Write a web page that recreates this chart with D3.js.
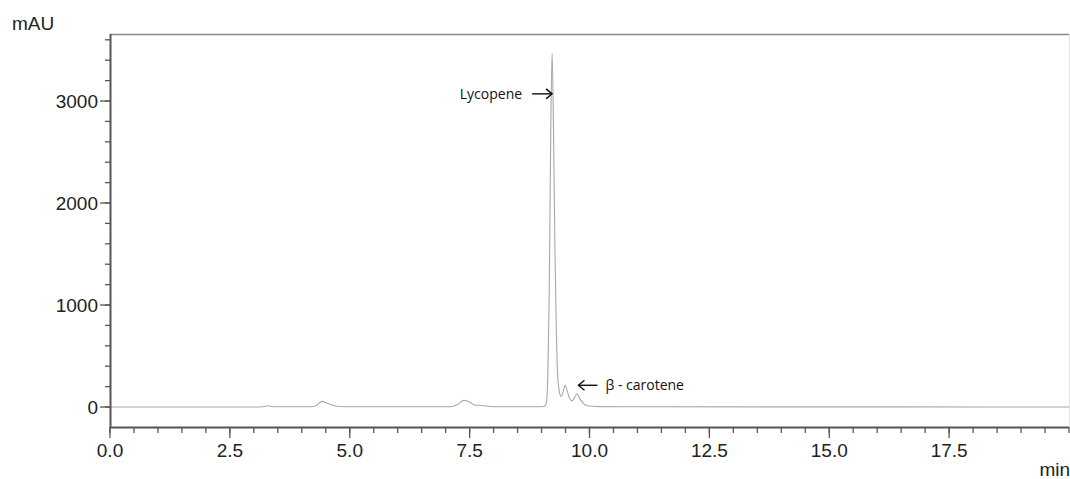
<!DOCTYPE html>
<html>
<head>
<meta charset="utf-8">
<script src="https://cdn.jsdelivr.net/npm/d3@7"></script>
<style>
  html, body { margin: 0; padding: 0; background: #fff; }
  svg { display: block; }
</style>
</head>
<body>
<svg id="chart" width="1070" height="479"></svg>
<script>
// ---- data ----
const times = [0, 3.0, 3.2, 3.3, 3.4, 3.6, 4.2, 4.3, 4.42, 4.55, 4.7, 4.9,
  7.1, 7.25, 7.38, 7.5, 7.6, 7.75, 8.0, 8.6, 8.9, 9.05, 9.1, 9.13, 9.16, 9.19,
  9.22, 9.25, 9.28, 9.31, 9.34, 9.38, 9.41, 9.45, 9.49, 9.54, 9.59, 9.63, 9.68,
  9.74, 9.8, 9.87, 9.95, 10.2, 11, 16.5, 20];
const signal = [0, 0, 3, 12, 3, 2, 2, 15, 55, 35, 10, 3,
  3, 25, 65, 50, 20, 15, 3, 2, 2, 5, 40, 300, 1100, 2600,
  3470, 2700, 1500, 700, 280, 130, 100, 150, 213, 150, 80, 60, 85,
  130, 80, 35, 12, 4, 2, 1, 0];
const xTicks = [0, 2.5, 5, 7.5, 10, 12.5, 15, 17.5];
const yTicks = [0, 1000, 2000, 3000];
const annotations = [
  { label: "Lycopene", t: 9.22, v: 3070, side: "left" },
  { label: "β - carotene", t: 9.77, v: 213, side: "right" }
];

// ---- layout ----
const svg = d3.select("#chart");
const x = d3.scaleLinear().domain([0, 20]).range([110, 1069]);
const y = d3.scaleLinear().domain([-196, 3657]).range([427, 34]);
const axisColor = "#555";
const fontAxis = "Liberation Sans, Arial, sans-serif";

// frame top/right
svg.append("line").attr("x1", 110).attr("x2", 1069).attr("y1", 34.5).attr("y2", 34.5)
  .attr("stroke", "#8a8a8a").attr("stroke-width", 1.5);
svg.append("line").attr("x1", 1069.5).attr("x2", 1069.5).attr("y1", 34).attr("y2", 427)
  .attr("stroke", "#e4e4e4").attr("stroke-width", 1);

// trace
const line = d3.line().x((d, i) => x(times[i])).y((d, i) => y(signal[i]))
  .curve(d3.curveMonotoneX);
svg.append("path").datum(signal).attr("d", line)
  .attr("fill", "none").attr("stroke", "#a8a8a8").attr("stroke-width", 1.1);

// x axis
const xMinor = d3.range(0, 20.001, 0.5);
const gx = svg.append("g").attr("transform", "translate(0,427)");
gx.append("line").attr("x1", 110).attr("x2", 1069).attr("y1", 0.5).attr("y2", 0.5)
  .attr("stroke", axisColor).attr("stroke-width", 2);
gx.selectAll("line.minor").data(xMinor).join("line").attr("class", "minor")
  .attr("x1", d => x(d)).attr("x2", d => x(d)).attr("y1", 0).attr("y2", 6)
  .attr("stroke", axisColor).attr("stroke-width", 1.3);
gx.selectAll("line.major").data(xTicks).join("line").attr("class", "major")
  .attr("x1", d => x(d)).attr("x2", d => x(d)).attr("y1", 0).attr("y2", 11)
  .attr("stroke", axisColor).attr("stroke-width", 1.3);
gx.selectAll("text").data(xTicks).join("text")
  .attr("x", d => x(d)).attr("y", 29.5).attr("text-anchor", "middle")
  .attr("font-family", fontAxis).attr("font-size", 19).attr("fill", "#222")
  .text(d => d3.format(".1f")(d));

// y axis
const yMinor = d3.range(-200, 3657, 200).filter(v => v >= -196);
const gy = svg.append("g");
gy.append("line").attr("x1", 110.5).attr("x2", 110.5).attr("y1", 34).attr("y2", 428)
  .attr("stroke", axisColor).attr("stroke-width", 2);
gy.selectAll("line.minor").data(yMinor).join("line").attr("class", "minor")
  .attr("x1", 105).attr("x2", 110).attr("y1", d => y(d)).attr("y2", d => y(d))
  .attr("stroke", axisColor).attr("stroke-width", 1.3);
gy.selectAll("line.major").data(yTicks).join("line").attr("class", "major")
  .attr("x1", 100).attr("x2", 110).attr("y1", d => y(d)).attr("y2", d => y(d))
  .attr("stroke", axisColor).attr("stroke-width", 1.3);
gy.selectAll("text").data(yTicks).join("text")
  .attr("x", 98).attr("y", d => y(d)).attr("dy", "0.36em").attr("text-anchor", "end")
  .attr("font-family", fontAxis).attr("font-size", 19).attr("fill", "#222")
  .text(d => d);

// axis titles
svg.append("text").attr("x", 12).attr("y", 30).attr("font-family", fontAxis)
  .attr("font-size", 19).attr("fill", "#222").text("mAU");
svg.append("text").attr("x", 1070).attr("y", 476).attr("text-anchor", "end")
  .attr("font-family", fontAxis).attr("font-size", 19).attr("fill", "#222").text("min");

// annotations
const annFont = "'Open Sans', 'Noto Sans', sans-serif";
annotations.forEach(a => {
  const tx = x(a.t), ty = y(a.v);
  const g = svg.append("g");
  if (a.side === "left") {
    g.append("line").attr("x1", tx - 20).attr("x2", tx).attr("y1", ty).attr("y2", ty)
      .attr("stroke", "#111").attr("stroke-width", 1.4);
    g.append("path").attr("d", `M${tx - 6},${ty - 5} L${tx},${ty} L${tx - 6},${ty + 5}`)
      .attr("fill", "none").attr("stroke", "#111").attr("stroke-width", 1.4);
    g.append("text").attr("x", tx - 30).attr("y", ty + 5).attr("text-anchor", "end")
      .attr("font-family", annFont).attr("font-size", 14).attr("fill", "#111").text(a.label);
  } else {
    g.append("line").attr("x1", tx).attr("x2", tx + 19).attr("y1", ty).attr("y2", ty)
      .attr("stroke", "#111").attr("stroke-width", 1.4);
    g.append("path").attr("d", `M${tx + 6},${ty - 5} L${tx},${ty} L${tx + 6},${ty + 5}`)
      .attr("fill", "none").attr("stroke", "#111").attr("stroke-width", 1.4);
    g.append("text").attr("x", tx + 27).attr("y", ty + 5).attr("text-anchor", "start")
      .attr("font-family", annFont).attr("font-size", 14).attr("fill", "#111").text(a.label);
  }
});
</script>
</body>
</html>
